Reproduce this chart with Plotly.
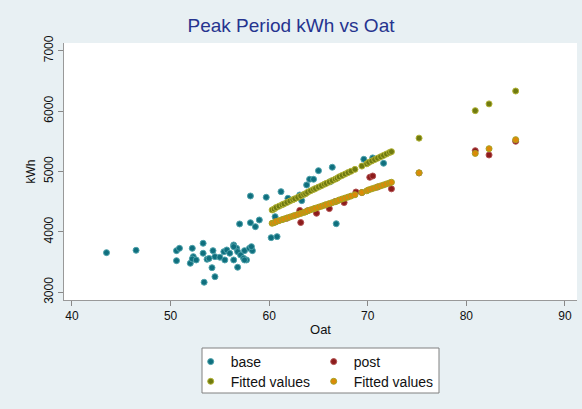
import plotly.graph_objects as go

# ---- data ----
base_x = [43.5, 46.5, 50.6, 50.9, 50.6, 52.0, 52.2, 52.3, 52.2, 53.3, 53.3, 52.6, 53.4,
          54.2, 54.5, 53.7, 53.9, 54.3, 54.5, 55.0, 55.4, 55.7, 56.0, 56.4, 56.7, 56.8,
          56.4, 56.8, 57.1, 57.4, 57.5, 58.0, 58.3, 57.7, 55.5, 56.4, 58.2, 57.5,
          57.0, 58.1, 58.1, 58.6, 59.0, 59.7, 60.2, 60.8, 61.2, 61.9, 60.6, 63.1, 63.3,
          63.8, 64.1, 64.5, 65.0, 66.2, 66.4, 66.8, 69.6, 70.5, 71.6]
base_y = [3656, 3695, 3689, 3728, 3523, 3480, 3728, 3590, 3551, 3811, 3646, 3535, 3166,
          3407, 3258, 3546, 3560, 3689, 3590, 3580, 3672, 3700, 3646, 3783, 3728, 3672,
          3535, 3414, 3618, 3563, 3689, 3728, 3689, 3535, 3535, 3755, 3755, 3535,
          4131, 4594, 4152, 4086, 4197, 4573, 3904, 3921, 4666, 4556, 4252, 4611, 4517,
          4777, 4871, 4871, 5013, 4831, 5070, 4135, 5202, 5225, 5136]

post_x = [60.7, 61.8, 63.1, 63.2, 63.9, 64.8, 66.1, 66.7, 67.6, 68.8, 69.4, 70.2, 70.5,
          71.0, 72.4, 75.2, 80.9, 82.3, 85.0]
post_y = [4172, 4226, 4355, 4155, 4350, 4308, 4385, 4502, 4485, 4660, 4650, 4904, 4925,
          4742, 4712, 4975, 5344, 5273, 5500]

fit_x = [60.3, 60.5, 60.7, 61.0, 61.3, 61.5, 61.8, 62.1, 62.4, 62.6, 62.9, 63.2, 63.5,
         63.7, 63.9, 64.2, 64.5, 64.7, 65.0, 65.3, 65.6, 65.8, 66.1, 66.4, 66.7, 66.9,
         67.1, 67.4, 67.7, 68.0, 68.3, 68.7, 69.4, 69.9, 70.1, 70.4, 70.7, 71.0, 71.3,
         71.6, 71.9, 72.2, 72.4, 75.2, 80.9, 82.3, 85.0]
fit_base_y = [4363, 4378, 4402, 4425, 4448, 4463, 4487, 4510, 4533, 4548, 4571, 4595, 4618,
              4633, 4656, 4680, 4703, 4718, 4741, 4764, 4788, 4803, 4826, 4849, 4873, 4888,
              4911, 4934, 4957, 4981, 5004, 5035, 5089, 5127, 5150, 5174, 5197, 5220, 5243,
              5266, 5289, 5313, 5328, 5552, 6007, 6119, 6332]
fit_post_y = [4142, 4153, 4169, 4185, 4202, 4213, 4229, 4245, 4261, 4272, 4289, 4305, 4321,
              4332, 4348, 4365, 4381, 4392, 4408, 4424, 4441, 4452, 4468, 4484, 4500, 4511,
              4528, 4544, 4560, 4576, 4593, 4614, 4652, 4680, 4696, 4712, 4728, 4745, 4761,
              4777, 4794, 4810, 4821, 4978, 5299, 5377, 5527]

x_ticks = [40, 50, 60, 70, 80, 90]
y_ticks = [3000, 4000, 5000, 6000, 7000]

FONT = "Liberation Sans, Arial, sans-serif"

fig = go.Figure()
fig.add_trace(go.Scatter(x=base_x, y=base_y, mode="markers", name="base", legend="legend",
                         marker=dict(size=6, color="#0f6f7e", line=dict(width=1, color="#4fa2ab"))))
fig.add_trace(go.Scatter(x=post_x, y=post_y, mode="markers", name="post", legend="legend",
                         marker=dict(size=6, color="#8c1c1c", line=dict(width=1, color="#b25050"))))
fig.add_trace(go.Scatter(x=fit_x, y=fit_base_y, mode="markers", name="Fitted values", legend="legend2",
                         marker=dict(size=6, color="#6f7a10", line=dict(width=1, color="#b3b335"))))
fig.add_trace(go.Scatter(x=fit_x, y=fit_post_y, mode="markers", name="Fitted values", legend="legend2",
                         marker=dict(size=6, color="#dc8a08", line=dict(width=1, color="#a6a322"))))

L = 64; R = 5; T = 43; B = 109
W = 582; H = 409
pw = W - L - R; ph = H - T - B

def px_x(p):
    return (p - L) / pw

def px_y(p):
    return (H - B - p) / ph

leg_common = dict(orientation="h", xanchor="left", yanchor="middle", bgcolor="rgba(0,0,0,0)",
                  borderwidth=0, font=dict(family=FONT, size=14, color="#111111"),
                  entrywidth=78, entrywidthmode="pixels", itemwidth=30, tracegroupgap=0)

fig.update_layout(
    width=W, height=H,
    margin=dict(l=L, r=R, t=T, b=B, autoexpand=False),
    paper_bgcolor="#e8f0f3",
    plot_bgcolor="#ffffff",
    title=dict(text="Peak Period kWh vs Oat", x=0.5, xanchor="center", y=1 - 25 / H,
               yanchor="middle", font=dict(family=FONT, size=19, color="#26348f")),
    xaxis=dict(range=[39.19, 91.22], tickvals=x_ticks, ticks="outside", ticklen=5,
               tickcolor="#888888", showline=True, linecolor="#999999", linewidth=1,
               showgrid=False, zeroline=False, automargin=False,
               tickfont=dict(family=FONT, size=12, color="#111111"),
               title=dict(text="Oat", font=dict(family=FONT, size=13, color="#111111"), standoff=2)),
    yaxis=dict(range=[2872, 7127], tickvals=y_ticks, ticks="outside", ticklen=5,
               tickcolor="#888888", showline=True, linecolor="#999999", linewidth=1,
               showgrid=False, zeroline=False, tickangle=-90, automargin=False,
               tickfont=dict(family=FONT, size=12, color="#111111"),
               title=dict(text="kWh", font=dict(family=FONT, size=12, color="#111111"), standoff=4)),
    legend=dict(x=px_x(190.7), y=px_y(362), **leg_common),
    legend2=dict(x=px_x(190.7), y=px_y(381.7), **leg_common),
    shapes=[dict(type="rect", xref="paper", yref="paper",
                 x0=px_x(202), x1=px_x(439), y0=px_y(393), y1=px_y(348),
                 line=dict(color="#808080", width=1), fillcolor="#ffffff", layer="below")],
)

fig.write_html("out.html", config={"displayModeBar": False},
               post_script="document.body.style.margin='0';document.body.style.background='#e8f0f3';")
